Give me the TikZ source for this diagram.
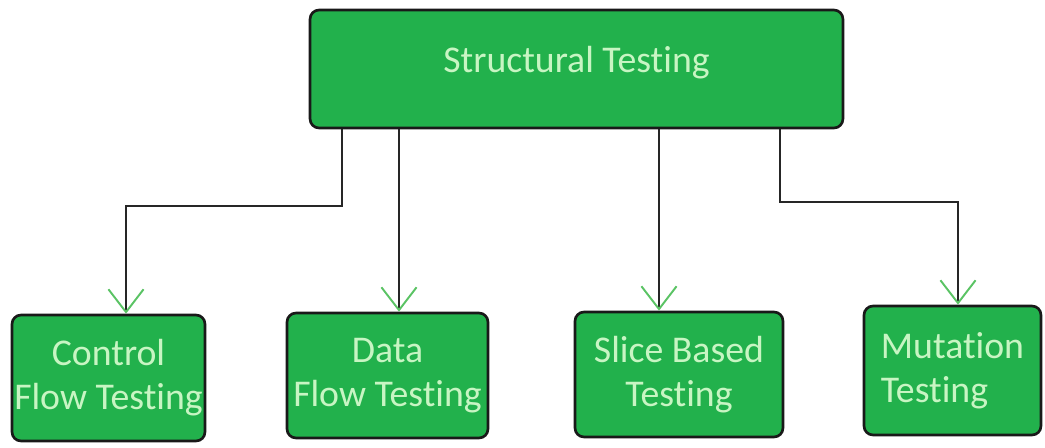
\documentclass[tikz,border=0pt]{standalone}
\usepackage{fontspec}
\setmainfont{Carlito}[Ligatures=NoCommon]
\usetikzlibrary{arrows.meta}
\definecolor{boxgreen}{RGB}{34,177,76}
\definecolor{textgreen}{RGB}{200,245,195}
\definecolor{tipgreen}{RGB}{90,195,100}

\begin{document}
\begin{tikzpicture}[x=0.02cm,y=-0.02cm,line width=1.1pt]
  \tikzstyle{tbox}=[draw=black!90,line width=1.5pt,fill=boxgreen,text=textgreen,
    rounded corners=0.18cm,inner sep=0pt,align=center,font=\fontsize{21.5}{25}\selectfont]
  \tikzstyle{conn}=[-{Straight Barb[length=13pt,width=20pt,line width=1.1pt,color=tipgreen]},black!85]
  \useasboundingbox (0,0) rectangle (1045,447);

  \node[tbox,minimum width=10.66cm,minimum height=2.36cm,text depth=11pt] (st) at (576.5,69) {Structural Testing};
  \node[tbox,minimum width=3.86cm,minimum height=2.52cm] (cft) at (108.5,378) {Control\\Flow Testing};
  \node[tbox,minimum width=4.02cm,minimum height=2.5cm] (dft) at (387.5,375.5) {Data\\Flow Testing};
  \node[tbox,minimum width=4.16cm,minimum height=2.5cm] (sbt) at (679,374.5) {Slice Based\\Testing};
  \node[tbox,minimum width=3.54cm,minimum height=2.58cm,align=left] (mt) at (952.5,370.5) {Mutation\\Testing};

  % bends and drops of the connectors
  \coordinate (k1) at (342,206);
  \coordinate (b1) at (126,206);
  \coordinate (d2) at (399,250);
  \coordinate (d3) at (659,250);
  \coordinate (k4) at (780,202);
  \coordinate (b4) at (958,202);

  \draw[conn] (st.south -| k1) -- (k1) -- (b1) -- (b1 |- cft.north);
  \draw[conn] (st.south -| d2) -- (d2 |- dft.north);
  \draw[conn] (st.south -| d3) -- (d3 |- sbt.north);
  \draw[conn] (st.south -| k4) -- (k4) -- (b4) -- (b4 |- mt.north);
\end{tikzpicture}
\end{document}
